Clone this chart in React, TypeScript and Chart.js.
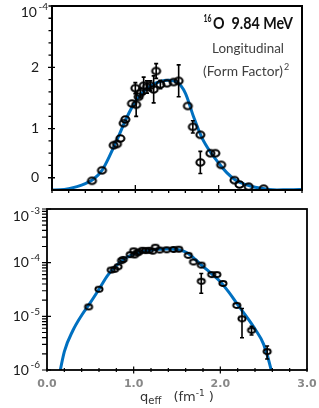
import React, { useEffect, useRef } from "react";
import { Chart, registerables } from "chart.js";

Chart.register(...registerables);

// ---- theory curve: q_eff (fm^-1) and |F|^2 in units of 1e-4 ----
const curveQ = [0, 0.1, 0.2, 0.3, 0.4, 0.5, 0.6, 0.7, 0.8, 0.9, 1.0, 1.1, 1.2, 1.3, 1.4, 1.5, 1.6, 1.7, 1.8, 1.9, 2.0, 2.1, 2.2, 2.3, 2.4, 2.5, 2.6, 2.7, 2.8, 2.9, 3.0];
const curveF = [0, 0.0035, 0.022, 0.055, 0.105, 0.18, 0.32, 0.58, 0.88, 1.19, 1.44, 1.61, 1.71, 1.77, 1.79, 1.76, 1.58, 1.19, 0.85, 0.62, 0.44, 0.28, 0.165, 0.10, 0.058, 0.030, 0.008, 0.0008, 0.003, 0.006, 0.008];

// ---- measured points (units of 1e-4) ----
const dataQ = [0.48, 0.60, 0.74, 0.78, 0.82, 0.86, 0.88, 0.96, 1.00, 1.01, 1.04, 1.06, 1.10, 1.14, 1.18, 1.22, 1.25, 1.30, 1.38, 1.46, 1.52, 1.63, 1.69, 1.78, 1.78, 1.90, 1.96, 2.03, 2.19, 2.25, 2.36, 2.54];
const dataF = [0.15, 0.32, 0.73, 0.75, 0.84, 1.09, 1.15, 1.41, 1.66, 1.39, 1.52, 1.58, 1.70, 1.68, 1.70, 1.64, 1.94, 1.72, 1.74, 1.76, 1.78, 1.37, 1.03, 0.90, 0.45, 0.60, 0.60, 0.41, 0.16, 0.09, 0.055, 0.022];
const dataErr = [0.01, 0.01, 0.02, 0.02, 0.03, 0.04, 0.04, 0.05, 0.09, 0.19, 0.06, 0.08, 0.14, 0.10, 0.08, 0.22, 0.12, 0.07, 0.05, 0.06, 0.26, 0.06, 0.10, 0.04, 0.18, 0.03, 0.04, 0.06, 0.02, 0.05, 0.01, 0.006];

const UNIT = 1e-4;

// ---- axes ----
const xTicks = [0, 0.2, 0.4, 0.6, 0.8, 1.0, 1.2, 1.4, 1.6, 1.8, 2.0, 2.2, 2.4, 2.6, 2.8, 3.0];
const xMajor = [1.0, 2.0];
const xLabelValues = [0, 1, 2, 3];
const xLabels = ["0.0", "1.0", "2.0", "3.0"];

const topYTicks = [0.2, 0.4, 0.6, 0.8, 1.0, 1.2, 1.4, 1.6, 1.8, 2.0, 2.2, 2.4, 2.6, 2.8, 3.0];
const topYLabelValues = [0.2, 1, 2, 3];
const topYLabelBase = ["0", "1", "2", "10"];
const topYLabelExp = ["", "", "", "-4"];

const logYLabelValues = [1e-6, 1e-5, 1e-4, 1e-3];
const logYLabelExp = ["-6", "-5", "-4", "-3"];
const logMinorMult = [2, 3, 4, 5, 6, 7, 8, 9];

// ---- annotation texts ----
const titleSup = "16";
const titleMain = "O  9.84 MeV";
const subtitle1 = "Longitudinal";
const subtitle2 = "(Form Factor)";
const subtitle2Sup = "2";

const BLUE = "#0070C0";
const LABEL_FONT = "Lato, 'Open Sans', sans-serif";

function ellipseImage(rx: number, ry: number, lw: number) {
  const c = document.createElement("canvas");
  const w = Math.ceil(2 * rx + lw + 2);
  const h = Math.ceil(2 * ry + lw + 2);
  c.width = w;
  c.height = h;
  const g = c.getContext("2d")!;
  g.strokeStyle = "#000";
  g.lineWidth = lw;
  g.beginPath();
  g.ellipse(w / 2, h / 2, rx, ry, 0, 0, Math.PI * 2);
  g.stroke();
  return c;
}

function drawPowLabel(ctx: CanvasRenderingContext2D, base: string, exp: string, rightX: number, cy: number) {
  ctx.font = `14px ${LABEL_FONT}`;
  const bw = ctx.measureText(base).width;
  ctx.font = `10px ${LABEL_FONT}`;
  const ew = exp ? ctx.measureText(exp).width + 1.5 : 0;
  const x0 = rightX - bw - ew;
  ctx.textBaseline = "middle";
  ctx.textAlign = "left";
  ctx.font = `14px ${LABEL_FONT}`;
  ctx.fillText(base, x0, cy);
  if (exp) {
    ctx.font = `10px ${LABEL_FONT}`;
    ctx.fillText(exp, x0 + bw + 1.5, cy - 5);
  }
}

function fitSize(ctx: CanvasRenderingContext2D, text: string, weight: string, targetW: number) {
  ctx.font = `${weight} 20px ${LABEL_FONT}`;
  const w = ctx.measureText(text).width;
  return (20 * targetW) / w;
}

// draw text at a given font size, squeezed horizontally to a target width
function drawFitted(ctx: CanvasRenderingContext2D, text: string, font: string, x: number, y: number, targetW: number) {
  ctx.font = font;
  const w = ctx.measureText(text).width;
  const sx = targetW / w;
  ctx.save();
  ctx.translate(x, y);
  ctx.scale(sx, 1);
  ctx.fillText(text, 0, 0);
  ctx.restore();
}

function drawErrorBars(chart: any, scaleVal: (v: number) => number, minVal: number) {
  const { ctx, scales } = chart;
  const xs = scales.x;
  const ys = scales.y;
  ctx.save();
  ctx.strokeStyle = "#000";
  ctx.lineWidth = 1.6;
  dataQ.forEach((q, i) => {
    const px = xs.getPixelForValue(q);
    const hi = ys.getPixelForValue(scaleVal(dataF[i] + dataErr[i]));
    const lo = ys.getPixelForValue(scaleVal(Math.max(dataF[i] - dataErr[i], minVal)));
    if (Math.abs(lo - hi) < 8) return;
    ctx.beginPath();
    ctx.moveTo(px, hi);
    ctx.lineTo(px, lo);
    ctx.moveTo(px - 2, hi);
    ctx.lineTo(px + 2, hi);
    ctx.moveTo(px - 2, lo);
    ctx.lineTo(px + 2, lo);
    ctx.stroke();
  });
  ctx.restore();
}

const topDecor = {
  id: "topDecor",
  afterDatasetsDraw(chart: any) {
    drawErrorBars(chart, (v) => v, 0);
  },
  afterDraw(chart: any) {
    const { ctx, chartArea, scales } = chart;
    const { left, right, top, bottom } = chartArea;
    const xs = scales.x;
    const ys = scales.y;
    ctx.save();
    ctx.strokeStyle = "#000";
    ctx.lineWidth = 2;
    ctx.strokeRect(left, top, right - left, bottom - top);
    ctx.lineWidth = 1.3;
    ctx.beginPath();
    xTicks.forEach((v) => {
      const px = xs.getPixelForValue(v);
      if (xMajor.includes(v)) {
        ctx.moveTo(px, bottom + 3);
        ctx.lineTo(px, bottom - 5);
      } else {
        ctx.moveTo(px, bottom);
        ctx.lineTo(px, bottom + 3);
      }
    });
    topYTicks.forEach((v) => {
      const py = ys.getPixelForValue(v);
      if (topYLabelValues.includes(v) && v !== 3) {
        ctx.moveTo(left - 4, py);
        ctx.lineTo(left + 3, py);
      } else {
        ctx.moveTo(left - 3.5, py);
        ctx.lineTo(left, py);
      }
    });
    ctx.stroke();
    ctx.fillStyle = "#1a1a1a";
    topYLabelValues.forEach((v, i) => {
      const py = Math.max(ys.getPixelForValue(v), top + 6);
      const rightX = topYLabelExp[i] ? left - 4 : left - 13;
      drawPowLabel(ctx, topYLabelBase[i], topYLabelExp[i], rightX, py);
    });

    // annotation block
    ctx.textAlign = "left";
    ctx.textBaseline = "alphabetic";
    ctx.fillStyle = "#111";
    drawFitted(ctx, titleMain, `bold 17.5px ${LABEL_FONT}`, 213, 28.5, 80);
    drawFitted(ctx, titleSup, `bold 11.5px ${LABEL_FONT}`, 203.5, 21.5, 8);

    ctx.fillStyle = "#404040";
    const s1 = fitSize(ctx, subtitle1, "normal", 72);
    ctx.font = `normal ${s1}px ${LABEL_FONT}`;
    ctx.fillText(subtitle1, 212, 52.5);
    const s2 = fitSize(ctx, subtitle2, "normal", 80);
    ctx.font = `normal ${s2}px ${LABEL_FONT}`;
    ctx.fillText(subtitle2, 203, 76);
    ctx.font = `normal ${s2 * 0.65}px ${LABEL_FONT}`;
    ctx.fillText(subtitle2Sup, 284, 70);
    ctx.restore();
  },
};

const botDecor = {
  id: "botDecor",
  afterDatasetsDraw(chart: any) {
    drawErrorBars(chart, (v) => v * UNIT, 0.001);
  },
  afterDraw(chart: any) {
    const { ctx, chartArea, scales } = chart;
    const { left, right, top, bottom } = chartArea;
    const xs = scales.x;
    const ys = scales.y;
    ctx.save();
    ctx.strokeStyle = "#000";
    ctx.lineWidth = 1.8;
    ctx.strokeRect(left, top, right - left, bottom - top);
    ctx.lineWidth = 1.2;
    ctx.beginPath();
    xTicks.forEach((v) => {
      const px = xs.getPixelForValue(v);
      const m = xMajor.includes(v);
      ctx.moveTo(px, bottom - (m ? 3.5 : 2));
      ctx.lineTo(px, bottom + (m ? 3.5 : 2));
    });
    logYLabelValues.forEach((dec, i) => {
      const py = ys.getPixelForValue(dec);
      ctx.moveTo(left - 5, py);
      ctx.lineTo(left + 4, py);
      if (i < logYLabelValues.length - 1) {
        logMinorMult.forEach((m) => {
          const pm = ys.getPixelForValue(dec * m);
          ctx.moveTo(left - 5, pm);
          ctx.lineTo(left, pm);
        });
      }
    });
    ctx.stroke();
    ctx.fillStyle = "#1a1a1a";
    logYLabelValues.forEach((v, i) => {
      const py = Math.max(ys.getPixelForValue(v), top + 7);
      drawPowLabel(ctx, "10", logYLabelExp[i], left - 7, py);
    });
    ctx.fillStyle = "#888888";
    ctx.font = "bold 11px 'DejaVu Sans', Verdana, sans-serif";
    ctx.textAlign = "center";
    ctx.textBaseline = "middle";
    xLabelValues.forEach((v, i) => {
      ctx.fillText(xLabels[i], xs.getPixelForValue(v), bottom + 14);
    });
    ctx.restore();
  },
};

export default function App() {
  const topRef = useRef<HTMLCanvasElement>(null);
  const botRef = useRef<HTMLCanvasElement>(null);

  useEffect(() => {
    const imgTop = ellipseImage(4.0, 3.2, 2.1);
    const imgBot = ellipseImage(3.6, 2.5, 1.9);

    const common: any = {
      responsive: false,
      devicePixelRatio: 1,
      animation: false,
      events: [],
      plugins: { legend: { display: false }, tooltip: { enabled: false } },
    };

    const top = new Chart(topRef.current!, {
      type: "scatter",
      data: {
        datasets: [
          {
            data: dataQ.map((q, i) => ({ x: q, y: dataF[i] })),
            pointStyle: imgTop as any,
            pointRadius: 4,
            showLine: false,
          },
          {
            data: curveQ.map((q, i) => ({ x: q, y: curveF[i] })),
            showLine: true,
            borderColor: BLUE,
            borderWidth: 3,
            pointRadius: 0,
            cubicInterpolationMode: "monotone",
            fill: false,
          } as any,
        ],
      },
      options: {
        ...common,
        layout: { padding: { left: 52, right: 17, top: 6, bottom: 10 } },
        scales: {
          x: { type: "linear", min: 0, max: 3, display: false },
          y: { type: "linear", min: 0, max: 3, display: false },
        },
      },
      plugins: [topDecor],
    });

    const logCurve = curveQ
      .map((q, i) => ({ x: q, y: curveF[i] * UNIT }))
      .filter((p) => p.y > 0);

    const bot = new Chart(botRef.current!, {
      type: "scatter",
      data: {
        datasets: [
          {
            data: dataQ.map((q, i) => ({ x: q, y: dataF[i] * UNIT })),
            pointStyle: imgBot as any,
            pointRadius: 4,
            showLine: false,
          },
          {
            data: logCurve,
            showLine: true,
            borderColor: BLUE,
            borderWidth: 3,
            pointRadius: 0,
            cubicInterpolationMode: "monotone",
            fill: false,
          } as any,
        ],
      },
      options: {
        ...common,
        layout: { padding: { left: 47, right: 12, top: 9, bottom: 38 } },
        scales: {
          x: { type: "linear", min: 0, max: 3, display: false },
          y: { type: "logarithmic", min: 1e-6, max: 1e-3, display: false },
        },
      },
      plugins: [botDecor],
    });

    return () => {
      top.destroy();
      bot.destroy();
    };
  }, []);

  return (
    <div style={{ position: "absolute", left: 0, top: 0, width: 319, height: 408, background: "#fff", overflow: "hidden" }}>
      <canvas ref={topRef} width={319} height={200} style={{ position: "absolute", left: 0, top: 0, width: 319, height: 200 }} />
      <canvas ref={botRef} width={319} height={208} style={{ position: "absolute", left: 0, top: 200, width: 319, height: 208 }} />
      <div
        style={{
          position: "absolute",
          left: 77,
          width: 200,
          top: 389,
          textAlign: "center",
          whiteSpace: "nowrap",
          fontFamily: "'DejaVu Sans', Verdana, sans-serif",
          fontSize: 13,
          color: "#333",
          lineHeight: "15px",
        }}
      >
        q<span style={{ fontSize: 10, position: "relative", top: 3 }}>eff</span>
        <span style={{ display: "inline-block", width: 12 }} />
        (fm<span style={{ fontSize: 9, position: "relative", top: -5 }}>-1</span> )
      </div>
    </div>
  );
}
